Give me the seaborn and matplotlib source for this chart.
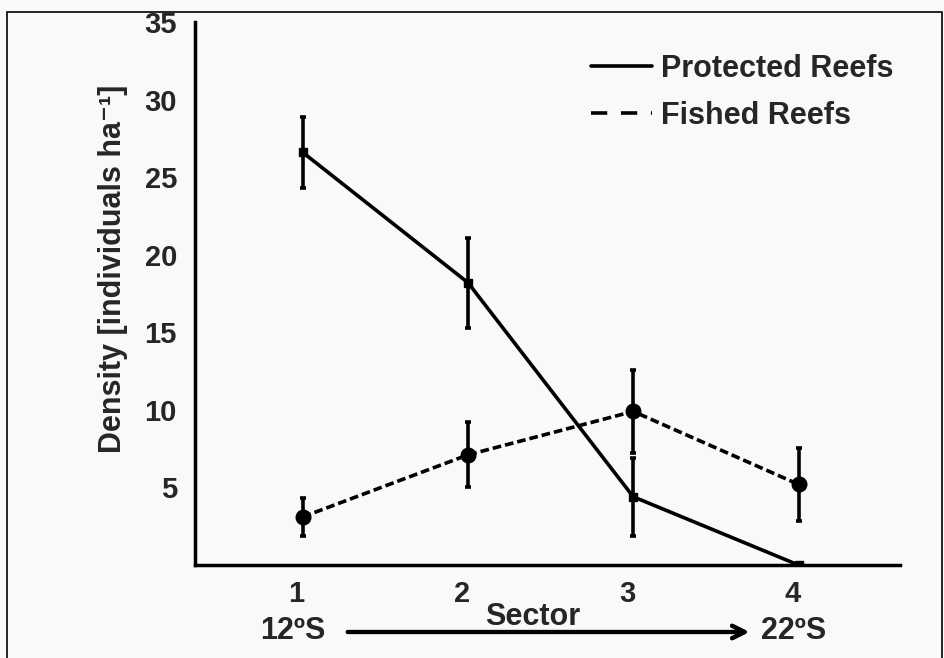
import numpy as np
import pandas as pd
import seaborn as sns
import matplotlib.pyplot as plt
from matplotlib.lines import Line2D
from matplotlib.patches import Rectangle

# values
sectors = [1, 2, 3, 4]
protected = [26.6, 18.2, 4.4, 0.0]
protected_err = [2.3, 2.9, 2.5, 0.0]
fished = [3.1, 7.1, 9.9, 5.2]
fished_err = [1.25, 2.1, 2.7, 2.35]
sector_labels = ["1", "2", "3", "4"]
ytick_vals = [5, 10, 15, 20, 25, 30, 35]

sns.set_style("white")
plt.rcParams['font.family'] = ['Liberation Sans', 'DejaVu Sans']
plt.rcParams['font.weight'] = 'bold'

df = pd.DataFrame({
    "Sector": sectors * 2,
    "Density": protected + fished,
    "err": protected_err + fished_err,
    "Reef": ["Protected Reefs"] * 4 + ["Fished Reefs"] * 4,
})
df["xpos"] = df["Sector"] + 0.036

fig = plt.figure(figsize=(9.44, 6.58), dpi=100, facecolor='#f9f9f9')
ax = fig.add_axes([0.2066, 0.1413, 0.7468, 0.8253])
ax.set_facecolor('#f9f9f9')

sns.lineplot(data=df, x="xpos", y="Density", hue="Reef", style="Reef",
             palette={"Protected Reefs": "black", "Fished Reefs": "black"},
             markers={"Protected Reefs": "s", "Fished Reefs": "o"},
             dashes={"Protected Reefs": "", "Fished Reefs": (2.4, 1.1)},
             markersize=0, linewidth=2.6, legend=False, ax=ax)

for reef, mk, ms in [("Protected Reefs", "s", 6), ("Fished Reefs", "o", 10.5)]:
    sub = df[df["Reef"] == reef]
    ax.errorbar(sub["xpos"], sub["Density"], yerr=sub["err"], fmt=mk,
                color='black', markersize=ms, elinewidth=2.6, capsize=2.5,
                capthick=2.6, zorder=4)

ax.set_xlim(0.385, 4.65)
ax.set_ylim(0, 35)
ax.set_xticks(sectors)
ax.set_xticklabels(sector_labels, fontsize=21, fontweight='bold')
ax.set_yticks(ytick_vals)
ax.set_yticklabels([str(v) for v in ytick_vals], fontsize=21, fontweight='bold')
ax.tick_params(axis='both', direction='out', length=4, width=2.5, pad=9)
ax.tick_params(axis='x', pad=7)
ax.set_xlabel("")
ax.set_ylabel("Density [individuals ha⁻¹]", fontsize=22, fontweight='bold')
ax.yaxis.set_label_coords(-0.095, 0.545)

sns.despine(ax=ax)
for side in ["left", "bottom"]:
    ax.spines[side].set_linewidth(2.5)
    ax.spines[side].set_color('black')

handles = [Line2D([], [], color='black', lw=2.6),
           Line2D([], [], color='black', lw=2.6, dashes=(4.5, 3.8))]
ax.legend(handles, ["Protected Reefs", "Fished Reefs"], loc='upper right',
          bbox_to_anchor=(1.03, 0.992), frameon=False,
          prop={'size': 22, 'weight': 'bold'}, handlelength=2.0,
          handletextpad=0.3, labelspacing=0.55)

# bottom annotation: sector label with latitude arrow
fig.text(533 / 944, 1 - 617 / 658, "Sector", ha='center', va='center',
         fontsize=22, fontweight='bold')
fig.text(293 / 944, 1 - 631 / 658, "12ºS", ha='center', va='center',
         fontsize=22, fontweight='bold')
fig.text(794 / 944, 1 - 631 / 658, "22ºS", ha='center', va='center',
         fontsize=22, fontweight='bold')
fig.add_artist(plt.annotate("", xy=(752 / 944, 1 - 632 / 658),
                            xytext=(345 / 944, 1 - 632 / 658),
                            xycoords='figure fraction',
                            textcoords='figure fraction',
                            arrowprops=dict(arrowstyle='->,head_length=0.9,head_width=0.45',
                                            lw=3, color='black')))

fig.add_artist(Rectangle((7 / 944, -0.01), 935 / 944, 1 - 12 / 658 + 0.01,
                         transform=fig.transFigure, fill=False,
                         edgecolor='black', lw=1.2))

plt.savefig("out.png", dpi=100, facecolor=fig.get_facecolor())
